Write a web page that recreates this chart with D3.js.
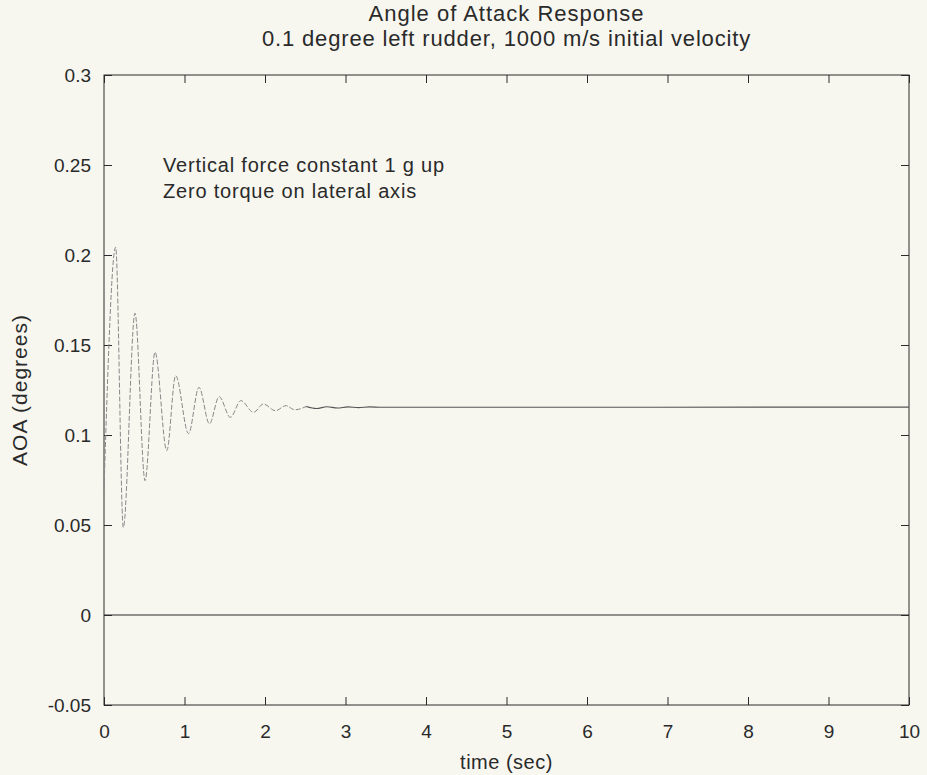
<!DOCTYPE html>
<html><head><meta charset="utf-8">
<script src="https://cdn.jsdelivr.net/npm/d3@7"></script>
<style>
html,body{margin:0;padding:0;background:#f7f7f0;}
svg{display:block;font-family:"Liberation Sans",Arial,Helvetica,sans-serif;}
</style></head>
<body><svg id="c" width="927" height="775"></svg>
<script>
// ---- data ----
const title1 = "Angle of Attack Response";
const title2 = "0.1 degree left rudder, 1000 m/s initial velocity";
const xLabel = "time (sec)";
const yLabel = "AOA (degrees)";
const notes = ["Vertical force constant 1 g up", "Zero torque on lateral axis"];
const xTicks = [0,1,2,3,4,5,6,7,8,9,10];
const yTicks = [-0.05,0,0.05,0.1,0.15,0.2,0.25,0.3];
// oscillating part of the response
const tOsc = [0, 0.145, 0.24, 0.385, 0.51, 0.634, 0.78, 0.89, 1.05, 1.18, 1.31, 1.43, 1.57, 1.70, 1.857, 1.98, 2.13, 2.26, 2.37, 2.51];
const aOsc = [0.07, 0.2044, 0.0486, 0.1677, 0.0746, 0.146, 0.0913, 0.133, 0.1008, 0.1265, 0.1062, 0.1213, 0.1098, 0.1191, 0.1126, 0.1172, 0.1135, 0.1163, 0.1140, 0.1158];
// settled part of the response
const tSet = [2.51, 2.64, 2.77, 2.9, 3.03, 3.16, 3.3, 3.45, 10];
const aSet = [0.1158, 0.1147, 0.1157, 0.1150, 0.1156, 0.1152, 0.1156, 0.1154, 0.1155];
// zero reference line
const tZero = [0, 10];
const aZero = [0, 0];

// ---- layout ----
const L = 104, R = 909, T = 75, B = 705;
const svg = d3.select("#c");
const x = d3.scaleLinear().domain([0,10]).range([L,R]);
const y = d3.scaleLinear().domain([-0.05,0.3]).range([B,T]);
const ink = "#2a2a2a";
const fs = 19;

// frame
svg.append("rect").attr("x",L).attr("y",T).attr("width",R-L).attr("height",B-T)
  .attr("fill","none").attr("stroke",ink).attr("stroke-width",1);

// axes (ticks inside)
const tl = 8;
const fmtY = d => d===0 ? "0" : String(+d.toFixed(2));
const gb = svg.append("g").attr("transform",`translate(0,${B})`)
  .call(d3.axisBottom(x).tickValues(xTicks).tickSize(-tl).tickPadding(tl+12).tickFormat(d3.format("d")));
const gt = svg.append("g").attr("transform",`translate(0,${T})`)
  .call(d3.axisTop(x).tickValues(xTicks).tickSize(-tl).tickFormat(""));
const gl = svg.append("g").attr("transform",`translate(${L},0)`)
  .call(d3.axisLeft(y).tickValues(yTicks).tickSize(-tl).tickPadding(tl+5).tickFormat(fmtY));
const gr = svg.append("g").attr("transform",`translate(${R},0)`)
  .call(d3.axisRight(y).tickValues(yTicks).tickSize(-tl).tickFormat(""));
[gb,gt,gl,gr].forEach(g=>{
  g.select(".domain").remove();
  g.selectAll("line").attr("stroke",ink);
  g.selectAll("text").attr("fill",ink).style("font-size",fs+"px").style("font-family","inherit");
});

// lines
const line = d3.line().x(d=>x(d[0])).y(d=>y(d[1])).curve(d3.curveMonotoneX);
svg.append("path").datum(d3.zip(tZero,aZero)).attr("d",d3.line().x(d=>x(d[0])).y(d=>y(d[1])))
  .attr("fill","none").attr("stroke",ink).attr("stroke-width",1);
svg.append("path").datum(d3.zip(tOsc,aOsc)).attr("d",line)
  .attr("fill","none").attr("stroke","#888").attr("stroke-width",1).attr("stroke-dasharray","5,2");
svg.append("path").datum(d3.zip(tSet,aSet)).attr("d",line)
  .attr("fill","none").attr("stroke","#555").attr("stroke-width",1.1);

// texts
svg.append("text").attr("x",(L+R)/2).attr("y",21).attr("text-anchor","middle")
  .attr("fill",ink).style("font-size","22px").style("letter-spacing","1px").text(title1);
svg.append("text").attr("x",(L+R)/2).attr("y",46).attr("text-anchor","middle")
  .attr("fill",ink).style("font-size","22px").style("letter-spacing","0.85px").text(title2);
svg.append("text").attr("x",(L+R)/2).attr("y",769).attr("text-anchor","middle")
  .attr("fill",ink).style("font-size","20px").style("letter-spacing","0.5px").text(xLabel);
svg.append("text").attr("transform",`translate(27,${(T+B)/2}) rotate(-90)`).attr("text-anchor","middle")
  .attr("fill",ink).style("font-size","21px").style("letter-spacing","1px").text(yLabel);
notes.forEach((n,i)=>{
  svg.append("text").attr("x",163).attr("y",172+i*26).attr("fill",ink)
    .style("font-size","20px").style("letter-spacing","0.8px").text(n);
});
</script></body></html>
